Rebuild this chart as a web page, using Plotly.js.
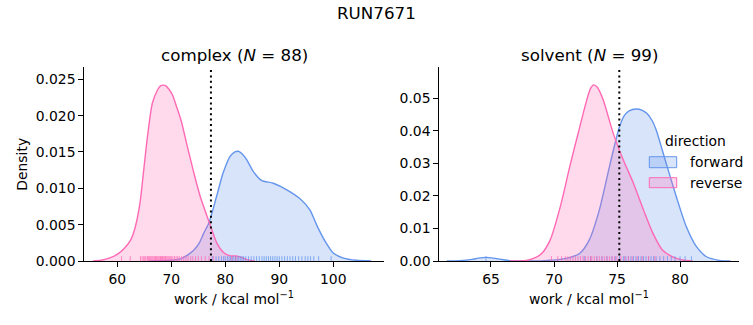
<!DOCTYPE html>
<html>
<head>
<meta charset="utf-8">
<script src="https://cdn.plot.ly/plotly-3.0.1.min.js"></script>
<style>html,body{margin:0;padding:0;background:#fff}#chart{width:753px;height:325px}</style>
</head>
<body>
<div id="chart"></div>
<script>
// ---- data ----
const complexRevX = [55.5, 57, 58.5, 60, 61.5, 62.5, 63.2, 64.2, 64.9, 65.6, 66.5, 67.5, 68.0, 68.5, 69.0, 69.5, 70.2, 71.0, 71.8, 73.0, 74.2, 75.4, 77.0, 78.5, 79.8, 81.0, 82.0, 83.0, 84.0, 85.5];
const complexRevD = [0, 0.0001, 0.0004, 0.0009, 0.0019, 0.0029, 0.0043, 0.0079, 0.0125, 0.0171, 0.0217, 0.0236, 0.0241, 0.0242, 0.0241, 0.0237, 0.0229, 0.0212, 0.0194, 0.0157, 0.0121, 0.0088, 0.0054, 0.0024, 0.0011, 0.0007, 0.0007, 0.0005, 0.0002, 0];
const complexFwdX = [66, 68, 70, 71.7, 73, 74.2, 75.2, 76.0, 77.0, 78.4, 79.6, 80.9, 81.8, 82.4, 83.2, 84.0, 85.2, 86.7, 88.9, 91.4, 93.8, 95.7, 96.9, 98.5, 100, 101.9, 104.3, 107];
const complexFwdD = [0, 0.00003, 0.0001, 0.0003, 0.0008, 0.0015, 0.0025, 0.0038, 0.0053, 0.0089, 0.0121, 0.0144, 0.0150, 0.0151, 0.0147, 0.0139, 0.0123, 0.0111, 0.0107, 0.0098, 0.0086, 0.0070, 0.0050, 0.0027, 0.0011, 0.0004, 0.0001, 0];

const solventRevX = [66.5, 67.8, 68.6, 69.0, 69.7, 70.5, 71.25, 72.05, 72.6, 72.9, 73.15, 73.45, 73.9, 74.7, 75.5, 76.3, 77.1, 77.85, 78.6, 79.4, 80.2, 81];
const solventRevD = [0, 0.0002, 0.0012, 0.0022, 0.0065, 0.0167, 0.029, 0.0413, 0.0495, 0.0530, 0.0541, 0.0533, 0.0495, 0.0392, 0.031, 0.0239, 0.0157, 0.0085, 0.0034, 0.0013, 0.0003, 0];
const solventFwdX = [61.5, 62.5, 63.5, 64.0, 64.6, 65.2, 65.8, 66.5, 67.5, 68.5, 69.5, 70.5, 71.3, 72.05, 72.8, 73.6, 74.4, 75.2, 75.6, 76.0, 76.5, 77.0, 77.4, 77.8, 78.1, 78.9, 79.7, 80.5, 81.3, 82.1, 83.1, 84];
const solventFwdD = [0, 0.0001, 0.0005, 0.0009, 0.0011, 0.0009, 0.0005, 0.0001, 0, 0, 0.0002, 0.0005, 0.0011, 0.0024, 0.0065, 0.0157, 0.029, 0.0413, 0.0448, 0.0462, 0.0467, 0.0463, 0.0452, 0.0430, 0.0403, 0.030, 0.0198, 0.0105, 0.0044, 0.0013, 0.0002, 0];

const complexRevRug = [60.8, 62.4, 64.3, 64.6, 64.9, 65.1, 65.3, 65.6, 65.8, 66.0, 66.2, 66.4, 66.6, 66.8, 67.0, 67.1, 67.3, 67.5, 67.7, 67.9, 68.0, 68.2, 68.4, 68.5, 68.7, 68.9, 69.0, 69.2, 69.4, 69.6, 69.8, 70.0, 70.3, 70.6, 70.9, 71.2, 71.5, 71.9, 72.3, 72.7, 73.1, 73.6, 74.0, 74.5, 75.0, 75.6, 76.3, 77.0, 77.8, 81.2, 82.0];
const complexFwdRug = [77.6, 78.3, 78.8, 79.3, 79.7, 80.0, 80.4, 80.7, 81.0, 81.3, 81.6, 81.9, 82.2, 82.5, 82.8, 83.1, 83.4, 83.8, 84.3, 84.8, 85.3, 85.8, 86.3, 86.8, 87.2, 87.6, 88.0, 88.4, 88.8, 89.2, 89.6, 90.0, 90.5, 91.0, 91.5, 92.0, 92.5, 93.0, 93.6, 94.2, 94.8, 95.3, 95.8, 96.4, 97.3, 99.6];
const solventRevRug = [69.8, 70.3, 70.6, 70.9, 71.1, 71.3, 71.5, 71.7, 71.9, 72.1, 72.3, 72.5, 72.7, 72.9, 73.0, 73.2, 73.4, 73.6, 73.8, 74.0, 74.2, 74.4, 74.6, 74.8, 75.0, 75.3, 75.6, 75.9, 76.2, 76.6, 77.0, 77.5, 78.0];
const solventFwdRug = [64.6, 72.4, 72.9, 73.4, 73.8, 74.2, 74.6, 74.9, 75.2, 75.5, 75.7, 75.9, 76.1, 76.3, 76.5, 76.7, 76.9, 77.1, 77.3, 77.5, 77.7, 77.9, 78.1, 78.4, 78.7, 79.0, 79.3, 79.6, 80.0, 80.4, 80.9];

const panelNames = ['complex', 'solvent'];
const panelN = [88, 99];
const deltaG = [77.35, 75.18];
const directions = ['forward', 'reverse'];
const xTicks1 = [60, 70, 80, 90, 100];
const yTicks1 = [0, 0.005, 0.010, 0.015, 0.020, 0.025];
const xTicks2 = [65, 70, 75, 80];
const yTicks2 = [0, 0.01, 0.02, 0.03, 0.04, 0.05];

// ---- styling ----
const BLUE = '#6495ED', PINK = '#FF69B4';
const BLUE_F = 'rgba(100,149,237,0.25)', PINK_F = 'rgba(255,105,180,0.25)';
const BLUE_R = 'rgba(100,149,237,0.75)', PINK_R = 'rgba(255,105,180,0.75)';
const FONT = 'DejaVu Sans, sans-serif';
const xr1 = [53.9, 109.4], yr1 = [0, 0.02665];
const xr2 = [60.9, 84.7], yr2 = [0, 0.0595];

function kde(x, y, color, fill, xa, ya) {
  return {x: x, y: y, xaxis: xa, yaxis: ya, type: 'scatter', mode: 'lines',
    line: {color: color, width: 1.4, shape: 'spline', smoothing: 0.7},
    fill: 'tozeroy', fillcolor: fill, showlegend: false, hoverinfo: 'skip'};
}
function rug(vals, color, h, xa, ya) {
  const xs = [], ys = [];
  vals.forEach(v => { xs.push(v, v, null); ys.push(0, h, null); });
  return {x: xs, y: ys, xaxis: xa, yaxis: ya, type: 'scatter', mode: 'lines',
    line: {color: color, width: 1}, showlegend: false, hoverinfo: 'skip', cliponaxis: false};
}

const h1 = (yr1[1] - yr1[0]) * 0.025, h2 = (yr2[1] - yr2[0]) * 0.025;
const traces = [
  kde(complexFwdX, complexFwdD, BLUE, BLUE_F, 'x', 'y'),
  kde(complexRevX, complexRevD, PINK, PINK_F, 'x', 'y'),
  rug(complexFwdRug, BLUE_R, h1, 'x', 'y'),
  rug(complexRevRug, PINK_R, h1, 'x', 'y'),
  kde(solventFwdX, solventFwdD, BLUE, BLUE_F, 'x2', 'y2'),
  kde(solventRevX, solventRevD, PINK, PINK_F, 'x2', 'y2'),
  rug(solventFwdRug, BLUE_R, h2, 'x2', 'y2'),
  rug(solventRevRug, PINK_R, h2, 'x2', 'y2')
];

const W = 753, H = 325;
const px = v => v / W, py = v => 1 - v / H;
const dom1 = [px(84.3), px(384)], dom2 = [px(439.3), px(739.3)];
const ydom = [py(261), py(67.3)];

function axisX(dom, range, ticks, anchor) {
  return {domain: dom, range: range, anchor: anchor, tickvals: ticks, ticktext: ticks.map(String),
    showline: true, linecolor: '#000', linewidth: 1, ticks: 'outside', ticklen: 5, tickwidth: 1,
    tickcolor: '#000', showgrid: false, zeroline: false, tickfont: {family: FONT, size: 13.9, color: '#000'}};
}
function axisY(range, ticks, fmt, anchor) {
  return {domain: ydom, range: range, anchor: anchor, tickvals: ticks, ticktext: ticks.map(v => v.toFixed(fmt)),
    showline: true, linecolor: '#000', linewidth: 1, ticks: 'outside', ticklen: 5, tickwidth: 1,
    tickcolor: '#000', showgrid: false, zeroline: false, tickfont: {family: FONT, size: 13.9, color: '#000'}};
}

const ann = (text, x, y, size, extra) => Object.assign({text: text, x: x, y: y, xref: 'paper', yref: 'paper',
  showarrow: false, xanchor: 'center', yanchor: 'middle', font: {family: FONT, size: size, color: '#000'}}, extra || {});

const annotations = [
  ann('RUN7671', 0.5, py(13), 16.7),
  ann(panelNames[0] + ' (<i>N</i> = ' + panelN[0] + ')', (dom1[0] + dom1[1]) / 2, py(55), 16.7),
  ann(panelNames[1] + ' (<i>N</i> = ' + panelN[1] + ')', (dom2[0] + dom2[1]) / 2, py(55), 16.7),
  ann('work / kcal mol<sup>−1</sup>', (dom1[0] + dom1[1]) / 2, py(298), 13.9),
  ann('work / kcal mol<sup>−1</sup>', (dom2[0] + dom2[1]) / 2, py(298), 13.9),
  ann('Density', px(21.7), py(164), 13.9, {textangle: -90}),
  ann('direction', px(695), py(141), 13.9),
  ann(directions[0], px(688.3), py(161.7), 13.9, {xanchor: 'left'}),
  ann(directions[1], px(688.3), py(182.7), 13.9, {xanchor: 'left'})
];

const shapes = [
  {type: 'line', xref: 'x', yref: 'y domain', x0: deltaG[0], x1: deltaG[0], y0: 0, y1: 1,
   line: {color: '#000', width: 2, dash: '2px,3.4px'}},
  {type: 'line', xref: 'x2', yref: 'y2 domain', x0: deltaG[1], x1: deltaG[1], y0: 0, y1: 1,
   line: {color: '#000', width: 2, dash: '2px,3.4px'}},
  {type: 'rect', xref: 'paper', yref: 'paper', x0: px(649.3), x1: px(676.7), y0: py(167.7), y1: py(156.7),
   fillcolor: BLUE_F, line: {color: BLUE, width: 1}},
  {type: 'rect', xref: 'paper', yref: 'paper', x0: px(649.3), x1: px(676.7), y0: py(187.7), y1: py(177.7),
   fillcolor: PINK_F, line: {color: PINK, width: 1}}
];

const layout = {
  width: W, height: H, margin: {l: 0, r: 0, t: 0, b: 0},
  paper_bgcolor: '#fff', plot_bgcolor: 'rgba(0,0,0,0)', showlegend: false,
  font: {family: FONT, size: 13.9, color: '#000'},
  xaxis: axisX(dom1, xr1, xTicks1, 'y'),
  yaxis: axisY(yr1, yTicks1, 3, 'x'),
  xaxis2: axisX(dom2, xr2, xTicks2, 'y2'),
  yaxis2: axisY(yr2, yTicks2, 2, 'x2'),
  annotations: annotations, shapes: shapes
};

Plotly.newPlot('chart', traces, layout, {staticPlot: true, displayModeBar: false});
</script>
</body>
</html>
